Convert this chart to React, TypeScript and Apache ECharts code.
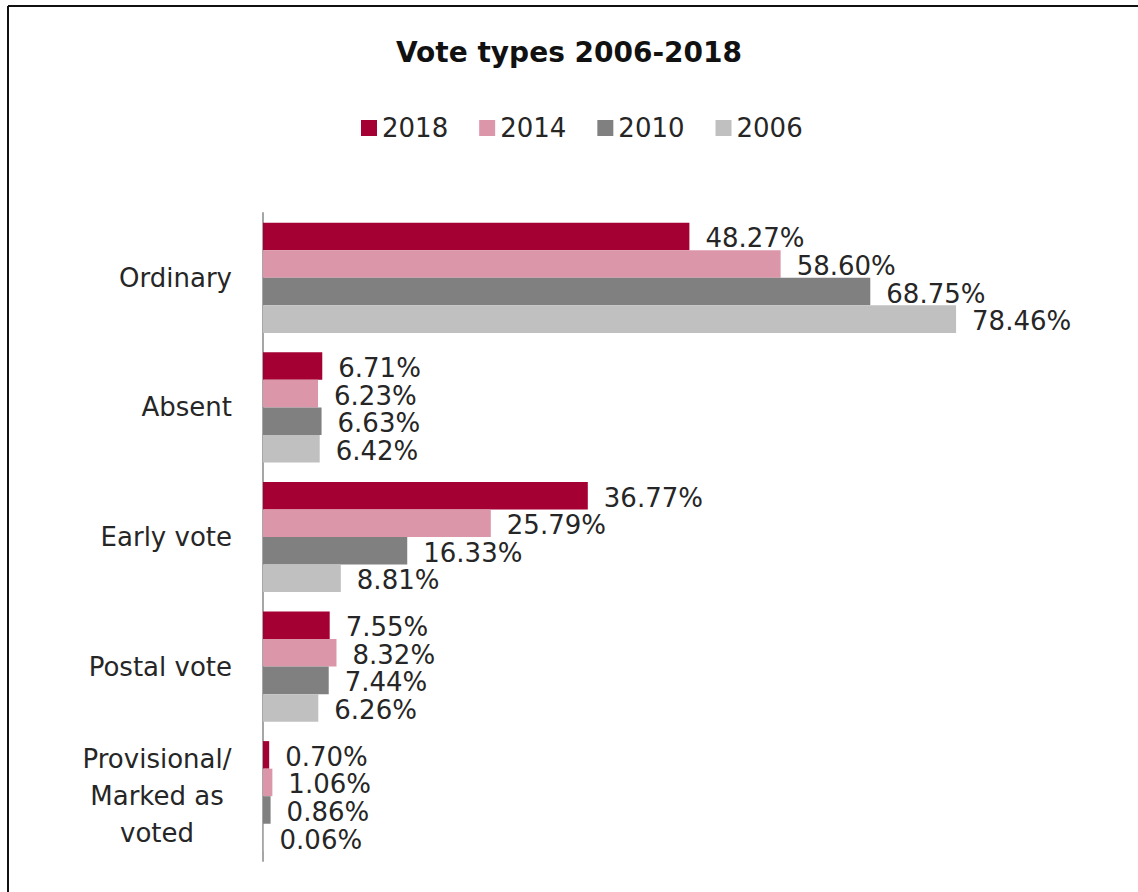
import React, { useEffect, useRef } from "react";
import * as echarts from "echarts";

const categories = ["Ordinary", "Absent", "Early vote", "Postal vote", "Provisional/\nMarked as\nvoted"];
const seriesNames = ["2018", "2014", "2010", "2006"];
const values2018 = [48.27, 6.71, 36.77, 7.55, 0.7];
const values2014 = [58.6, 6.23, 25.79, 8.32, 1.06];
const values2010 = [68.75, 6.63, 16.33, 7.44, 0.86];
const values2006 = [78.46, 6.42, 8.81, 6.26, 0.06];
const colors = ["#A50034", "#DC96AA", "#808080", "#C0C0C0"];

const FONT = "DejaVu Sans";

export default function App() {
  const ref = useRef<HTMLDivElement>(null);
  useEffect(() => {
    document.body.style.margin = "0";
    const chart = echarts.init(ref.current!, undefined, { renderer: "svg" });
    const allValues = [values2018, values2014, values2010, values2006];
    chart.setOption({
      animation: false,
      backgroundColor: "#ffffff",
      textStyle: { fontFamily: FONT },
      title: {
        text: "Vote types 2006-2018",
        left: "center",
        top: 33,
        textStyle: { fontFamily: FONT, fontWeight: "bold", fontSize: 28, color: "#111" },
      },
      legend: {
        data: seriesNames,
        left: 356,
        top: 110,
        icon: "rect",
        itemWidth: 16,
        itemHeight: 16,
        itemGap: 31,
        textStyle: { fontFamily: FONT, fontSize: 26, color: "#262626" },
      },
      grid: { left: 263, right: 80, top: 213, bottom: 31, containLabel: false },
      xAxis: {
        type: "value",
        min: 0,
        max: 90,
        show: false,
        splitLine: { show: false },
      },
      yAxis: {
        type: "category",
        data: categories,
        inverse: true,
        axisLine: { show: true, lineStyle: { color: "#A6A6A6", width: 2 } },
        axisTick: { show: false },
        axisLabel: {
          margin: 31,
          align: "right",
          fontFamily: FONT,
          fontSize: 26,
          color: "#262626",
          formatter: (v: string) => (v.indexOf("\n") >= 0 ? "{p|" + v + "}" : v),
          rich: {
            p: { align: "center", width: 150, fontFamily: FONT, fontSize: 26, lineHeight: 37, color: "#262626" },
          },
        },
      },
      series: seriesNames.map((name, i) => ({
        name,
        type: "bar",
        data: allValues[i],
        barGap: "0%",
        barCategoryGap: "15%",
        itemStyle: { color: colors[i] },
        label: {
          show: true,
          position: "right",
          distance: 16,
          offset: [0, 2],
          fontFamily: FONT,
          fontSize: 26,
          color: "#262626",
          formatter: (p: any) => Number(p.value).toFixed(2) + "%",
        },
      })),
      graphic: [
        { type: "line", shape: { x1: 8, y1: 6, x2: 1138, y2: 6 }, style: { stroke: "#111", lineWidth: 2 } },
        { type: "line", shape: { x1: 8, y1: 6, x2: 8, y2: 892 }, style: { stroke: "#111", lineWidth: 2 } },
      ],
    });
    return () => chart.dispose();
  }, []);
  return <div ref={ref} style={{ width: 1138, height: 892 }} />;
}
